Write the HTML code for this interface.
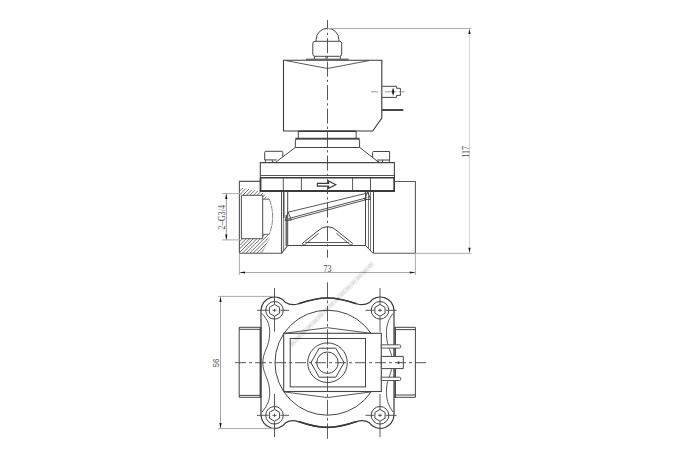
<!DOCTYPE html>
<html><head><meta charset="utf-8">
<style>
html,body{margin:0;padding:0;background:#fff;width:690px;height:459px;overflow:hidden}
svg{display:block}
text{font-family:"Liberation Serif",serif}
</style></head>
<body>
<svg width="690" height="459" viewBox="0 0 690 459">
<defs>
<pattern id="hatch" patternUnits="userSpaceOnUse" width="3" height="3" patternTransform="rotate(45)">
<line x1="0" y1="0" x2="0" y2="3" stroke="#3a3a3a" stroke-width="1"/>
</pattern>
<clipPath id="hc1"><path d="M240,187.4 L261.5,191.6 L269.3,199.2 H262.7 V195.3 H240 Z"/></clipPath>
<clipPath id="hc2"><path d="M240,238.7 H262.7 V234.3 H269.3 C268,242 265,248 261.6,253.3 H240 Z"/></clipPath>
</defs>
<rect width="690" height="459" fill="#fff"/>

<!-- ============ TOP VIEW ============ -->
<g fill="none" stroke="#454545" stroke-width="1">
<!-- dome -->
<path d="M316.1,41.3 V39.7 A11.4,11.4 0 0 1 338.9,39.7 V41.3"/>
<!-- nut -->
<rect x="312.8" y="41.3" width="28.9" height="15" rx="2.2"/>
<path d="M314.4,56.3 V59 M340.4,56.3 V59 M326,56.5 V59"/>
<!-- coil -->
<path d="M283.5,60.3 H381.8 V118.1 L372.7,131 H283.5 Z" stroke="#3a3a3a" stroke-width="1.1"/>
<path d="M286,60.6 L327.5,68.5 L369,60.6" stroke-width="0.9"/>
<!-- connector -->
<path d="M381.8,86.3 H396.6 V88.3 H400.4 V95.4 H396.6 V97.4 H381.8"/>
<!-- ring under coil -->
<path d="M298.3,131 V138.5 M356.1,131 V138.5"/>
<!-- bonnet step -->
<path d="M295.3,147.5 V141 Q295.3,138.8 297.5,138.8 H357.4 Q359.6,138.8 359.6,141 V147.5 H295.3"/>
<!-- bonnet slants -->
<path d="M295.3,147.5 L277.5,160.8 M359.6,147.3 L378.5,162.2"/>
<!-- bolt heads -->
<path d="M276.8,159.9 H264.7 V152.3 Q264.7,151.3 265.7,151.3 H281.8 Q282.8,151.3 282.8,152.3 V156.8"/>
<path d="M265.4,159.9 V162.6 M272,160 L273,162.4 H276.3 L277.3,160.6"/>
<path d="M372.6,157.5 V152.3 Q372.6,151.5 373.4,151.5 H389.6 V160 H377"/>
<path d="M389.4,160 V162.6 M378.3,160.9 L379,162.4 H382.2 L383,160"/>
<!-- flange -->
<path d="M260.3,190.8 V162.6 H394.4 V190.8" stroke-width="1.1"/>
<line x1="260.3" y1="175.5" x2="394.4" y2="175.5" stroke-width="0.9"/>
<line x1="260.3" y1="177.8" x2="394.4" y2="177.8" stroke-width="1.6" stroke="#3a3a3a"/>
<line x1="259.6" y1="190.9" x2="395" y2="190.9" stroke-width="2" stroke="#3a3a3a"/>
<path d="M260.6,178 V191 M394.2,178 V191" stroke-width="1.6" stroke="#3a3a3a"/>
<path d="M283.3,178 V190 M301.4,178 V190 M352.6,178 V190 M370.5,178 V190" stroke-width="0.9"/>
<!-- arrow -->

<!-- left port -->
<path d="M260.3,181.4 H239.4 V253.3 H281.6 L287.7,245.5" stroke-width="1.1" stroke="#555"/>
<!-- hatch areas -->
<path d="M230.0,190.0 L280.0,140.0 M230.0,193.6 L280.0,143.6 M230.0,197.2 L280.0,147.2 M230.0,200.8 L280.0,150.8 M230.0,204.4 L280.0,154.4 M230.0,208.0 L280.0,158.0 M230.0,211.6 L280.0,161.6 M230.0,215.2 L280.0,165.2 M230.0,218.8 L280.0,168.8 M230.0,222.4 L280.0,172.4 M230.0,226.0 L280.0,176.0 M230.0,229.6 L280.0,179.6 M230.0,233.2 L280.0,183.2 M230.0,236.8 L280.0,186.8 M230.0,240.4 L280.0,190.4 M230.0,244.0 L280.0,194.0 M230.0,247.6 L280.0,197.6 M230.0,251.2 L280.0,201.2 M230.0,254.8 L280.0,204.8 M230.0,258.4 L280.0,208.4 M230.0,262.0 L280.0,212.0 M230.0,265.6 L280.0,215.6 M230.0,269.2 L280.0,219.2 M230.0,272.8 L280.0,222.8 M230.0,276.4 L280.0,226.4 M230.0,280.0 L280.0,230.0 M230.0,283.6 L280.0,233.6 M230.0,287.2 L280.0,237.2 M230.0,290.8 L280.0,240.8 M230.0,294.4 L280.0,244.4 M230.0,298.0 L280.0,248.0" clip-path="url(#hc1)" stroke="#404040" stroke-width="0.75"/>
<path d="M230.0,190.0 L280.0,140.0 M230.0,193.6 L280.0,143.6 M230.0,197.2 L280.0,147.2 M230.0,200.8 L280.0,150.8 M230.0,204.4 L280.0,154.4 M230.0,208.0 L280.0,158.0 M230.0,211.6 L280.0,161.6 M230.0,215.2 L280.0,165.2 M230.0,218.8 L280.0,168.8 M230.0,222.4 L280.0,172.4 M230.0,226.0 L280.0,176.0 M230.0,229.6 L280.0,179.6 M230.0,233.2 L280.0,183.2 M230.0,236.8 L280.0,186.8 M230.0,240.4 L280.0,190.4 M230.0,244.0 L280.0,194.0 M230.0,247.6 L280.0,197.6 M230.0,251.2 L280.0,201.2 M230.0,254.8 L280.0,204.8 M230.0,258.4 L280.0,208.4 M230.0,262.0 L280.0,212.0 M230.0,265.6 L280.0,215.6 M230.0,269.2 L280.0,219.2 M230.0,272.8 L280.0,222.8 M230.0,276.4 L280.0,226.4 M230.0,280.0 L280.0,230.0 M230.0,283.6 L280.0,233.6 M230.0,287.2 L280.0,237.2 M230.0,290.8 L280.0,240.8 M230.0,294.4 L280.0,244.4 M230.0,298.0 L280.0,248.0" clip-path="url(#hc2)" stroke="#404040" stroke-width="0.75"/>
<!-- bore -->
<path d="M262.7,195.3 H241.4 V238.7 H262.7 Z" stroke-width="1" stroke="#505050"/>
<path d="M262.7,199.2 H269.3 M262.7,234.3 H269.3" stroke-width="0.8"/>
<path d="M269.3,199.2 C271.8,206 272.6,211 272.6,216.7 C272.6,222.5 271.8,227.5 269.3,234.3" stroke-width="0.8" stroke="#666" stroke-dasharray="6 0.8"/>
<path d="M269.3,238.7 L261.5,253" stroke-width="0.5" stroke="#888"/>

<!-- body -->
<path d="M281.6,191 V253 M287.7,191 V245.5" stroke-width="1"/>
<path d="M283.6,218 V250.5" stroke-width="0.8" stroke="#555"/>
<path d="M283.8,191 V218" stroke-width="1.4" stroke="#454545"/>
<path d="M286.2,215 V246" stroke-width="1.2" stroke="#454545"/>
<path d="M373.5,191 V253 M365.5,191 V245.5" stroke-width="1"/>
<path d="M368.5,191 V248 M370.5,191 V250.5" stroke-width="0.8" stroke="#555"/>
<path d="M287.7,245.5 H365.5" stroke-width="1"/>
<path d="M365.5,245.5 L373,253.3" stroke-width="1"/>
<!-- right port -->
<path d="M394.4,181.5 H415.4 V253.3 H373.4" stroke-width="1.1" stroke="#5a5a5a"/>

<!-- diaphragm -->
<path d="M287.4,212.4 L367.3,193" stroke-width="0.9"/>
<path d="M288.3,218.6 L367.3,197.6" stroke-width="0.9"/>
<path d="M288.3,220.4 L367.3,199.4" stroke-width="0.9"/>
<path d="M285,220.4 L288.3,212.5 L291.5,220 Z" stroke-width="0.9"/>
<path d="M364.5,199.5 L367.8,192 L370.5,199.5 Z" stroke-width="0.9"/>
<!-- seat cone -->
<path d="M302.6,243.2 L316.5,232 Q327.5,221.2 338.5,232 L352.4,243.2" stroke-width="1"/>
<path d="M302.6,243.2 A1.4,1.4 0 0 0 304.6,244.8 L318.6,233.4 M352.4,243.2 A1.4,1.4 0 0 1 350.4,244.8 L336.4,233.4" stroke-width="0.9"/>
<path d="M305.4,242.5 H348.8" stroke-width="0.9"/>
</g>

<!-- centre lines top view -->
<g fill="none">
<line x1="327.5" y1="20" x2="327.5" y2="257.7" stroke="#454545" stroke-width="0.9" stroke-dasharray="15 3.2 2.2 3.1" stroke-dashoffset="5.4"/>
<line x1="371" y1="91.8" x2="404.5" y2="91.8" stroke="#999" stroke-width="1" stroke-dasharray="7 2.5 2 2.5"/>
</g>
<path d="M393.1,87.5 L394.4,91.8 L393.1,96 L391.8,91.8 Z" fill="#222"/>
<path d="M317.4,183.4 H328.6 V181 L335.8,184.7 L328.6,188.3 V186.1 H317.4 Z" fill="#fff" stroke="#3a3a3a" stroke-width="1.1"/>
<line x1="382" y1="110" x2="403.3" y2="110" stroke="#454545" stroke-width="2"/>
<rect x="306" y="58.6" width="42.6" height="1.8" fill="#666"/>
<line x1="298.3" y1="131.2" x2="356.1" y2="131.2" stroke="#3a3a3a" stroke-width="1.4"/>
<line x1="295.3" y1="138.6" x2="359.6" y2="138.6" stroke="#444" stroke-width="1.6"/>

<!-- dimensions top view -->
<g stroke="#aaa" stroke-width="1" fill="none">
<line x1="327.5" y1="28.5" x2="471.2" y2="28.5"/>
<line x1="415.4" y1="253.3" x2="471.2" y2="253.3"/>
<line x1="469.5" y1="30" x2="469.5" y2="252" stroke="#d6d6d6"/>
<line x1="239.4" y1="272.5" x2="415.4" y2="272.5"/>
<line x1="239.4" y1="253" x2="239.4" y2="275"/>
<line x1="415.4" y1="253" x2="415.4" y2="275"/>
<line x1="226.3" y1="193.6" x2="226.3" y2="239.9" stroke="#999"/>
<line x1="222" y1="193.6" x2="240" y2="193.6"/>
<line x1="222" y1="239.9" x2="240" y2="239.9"/>
</g>
<g fill="#111">
<path d="M469.5,28.8 L470.6,34 L468.4,34 Z"/>
<path d="M469.5,253 L470.6,247.8 L468.4,247.8 Z"/>
<path d="M239.6,272.5 L245,271.4 L245,273.6 Z"/>
<path d="M415.2,272.5 L409.8,271.4 L409.8,273.6 Z"/>
<path d="M226.3,193.8 L227.4,199 L225.2,199 Z"/>
<path d="M226.3,239.7 L227.4,234.5 L225.2,234.5 Z"/>
</g>
<g fill="#444" font-size="9.4">
<text x="327.4" y="271.7" text-anchor="middle" textLength="7.8" lengthAdjust="spacingAndGlyphs">73</text>
<text transform="translate(468.9,151.8) rotate(-90)" font-size="9.4" text-anchor="middle" textLength="11.8" lengthAdjust="spacingAndGlyphs">117</text>
<text transform="translate(224.9,217.2) rotate(-90)" text-anchor="middle" font-size="10.2" fill="#555" textLength="24.6" lengthAdjust="spacingAndGlyphs">2–G3/4</text>
</g>

<!-- ============ BOTTOM VIEW ============ -->
<g fill="none" stroke="#454545" stroke-width="1">
<!-- body outline -->
<path id="outline" d="M261,310.3 A13.6,13.6 0 0 1 285.6,302.6 C289.5,305 293.5,305.4 298.5,303.8 C309,300.2 317,298 327.5,298 C338,298 346,300.2 356.5,303.8 C361.5,305.4 365.5,305 369.4,302.6 A13.6,13.6 0 0 1 394,310.3 V415.1 A13.6,13.6 0 0 1 369.4,422.8 C365.5,420.4 361.5,420 356.5,421.6 C346,425.2 338,427.4 327.5,427.4 C317,427.4 309,425.2 298.5,421.6 C293.5,420 289.5,420.4 285.6,422.8 A13.6,13.6 0 0 1 261,415.1 Z" stroke-width="1.2" stroke="#3a3a3a"/>
<!-- inner wall curves -->
<path d="M262,313.5 C268,320 270.5,326 269.5,336 C269,347 262.8,352 262.8,362.7 C262.8,373 268.5,378 269.5,389 C270.5,399 268,405 262,412" stroke-width="0.9"/>
<path d="M393,313.5 C388,320 386,326 386.5,336 C387,347 392.4,352 392.4,362.7 C392.4,373 387,378 386.5,389 C386,399 388,405 393,412" stroke-width="0.9"/>
<!-- big circle -->
<circle cx="327.5" cy="362.7" r="52.5" stroke-width="1"/>
<!-- bolt holes -->
<circle cx="274.5" cy="310.3" r="8.8"/><path d="M274.5,316.2 L269.4,313.2 L269.4,307.4 L274.5,304.4 L279.6,307.4 L279.6,313.2 Z"/>
<circle cx="380" cy="310.3" r="8.8"/><path d="M380.0,316.2 L374.9,313.2 L374.9,307.4 L380.0,304.4 L385.1,307.4 L385.1,313.2 Z"/>
<circle cx="274.5" cy="415.3" r="8.8"/><path d="M274.5,421.2 L269.4,418.2 L269.4,412.4 L274.5,409.4 L279.6,412.4 L279.6,418.2 Z"/>
<circle cx="380" cy="415.3" r="8.8"/><path d="M380.0,421.2 L374.9,418.2 L374.9,412.4 L380.0,409.4 L385.1,412.4 L385.1,418.2 Z"/>
<!-- crosshairs -->
<path d="M257.0,310.3 H268.5 M280.5,310.3 H289.0 M274.5,288.0 V304.3 M274.5,316.3 V331.7 M272.5,310.3 H276.5 M274.5,308.8 V311.8 M365.5,310.3 H374.0 M386.0,310.3 H396.5 M380.0,288.0 V304.3 M380.0,316.3 V331.7 M378.0,310.3 H382.0 M380.0,308.8 V311.8 M257.0,415.3 H268.5 M280.5,415.3 H289.0 M274.5,394.0 V409.3 M274.5,421.3 V437.0 M272.5,415.3 H276.5 M274.5,413.8 V416.8 M365.5,415.3 H374.0 M386.0,415.3 H396.5 M380.0,394.0 V409.3 M380.0,421.3 V437.0 M378.0,415.3 H382.0 M380.0,413.8 V416.8" stroke-width="0.9"/>
<!-- ports -->
<path d="M260.5,327.3 H239.2 V397.3 H260.5 M239.2,329.3 H260.5 M239.2,395.4 H260.5" stroke-width="1"/>
<path d="M394.3,327.3 H415.4 V397.3 H394.3 M394.3,329.6 H415.4 M394.3,395 H415.4" stroke-width="1"/>
<line x1="260.5" y1="327" x2="260.5" y2="398" stroke="#454545" stroke-width="1.8"/>
<line x1="395.2" y1="327" x2="395.2" y2="398" stroke="#444" stroke-width="1.5"/>
<!-- coil rect -->
<rect x="283.7" y="333.3" width="97.6" height="58.2" fill="#fff" stroke-width="1.1"/>
<rect x="290.2" y="338.5" width="75.3" height="48.4" stroke-width="1"/>
<path d="M284,333.3 L327.5,327.7 L371,333.3 M284,391.9 L327.5,397.6 L371,391.9" stroke-width="0.9"/>
<!-- nut -->
<circle cx="327.5" cy="362.7" r="19.8" stroke-width="1"/>
<path d="M310.9,362.7 L319.2,348.2 H335.8 L344.1,362.7 L335.8,377.2 H319.2 Z" stroke-width="1"/>
<circle cx="327.5" cy="362.7" r="10.7" stroke-width="1"/>
<!-- terminal -->
<path d="M381.3,344.8 H399.6 Q400.8,344.8 400.8,346.4 Q400.8,348.1 399.6,348.1 H381.3 Z M381.3,377.2 H399.6 Q400.8,377.2 400.8,378.8 Q400.8,380.5 399.6,380.5 H381.3 Z" fill="#fff" stroke-width="0.9"/>
<path d="M381.3,356.4 H403.3 V368.6 H381.3 Z" fill="#fff" stroke-width="1"/>
</g>
<circle cx="398.6" cy="362.6" r="1.2" fill="#222"/>
<g fill="none">
<line x1="235" y1="362.7" x2="428" y2="362.7" stroke="#444" stroke-width="0.9" stroke-dasharray="11 3 3 3"/>
<line x1="327.5" y1="282.3" x2="327.5" y2="440" stroke="#444" stroke-width="0.85" stroke-dasharray="15.5 2.5 3 2.5"/>
<path d="M298.5,303.8 C309,300.2 317,298 327.5,298 C338,298 346,300.2 356.5,303.8 M298.5,421.6 C309,425.2 317,427.4 327.5,427.4 C338,427.4 346,425.2 356.5,421.6" fill="none" stroke="#3a3a3a" stroke-width="1.6"/>
</g>
<!-- dim 56 -->
<g stroke="#aaa" stroke-width="1" fill="none">
<line x1="218" y1="296.4" x2="274" y2="296.4"/>
<line x1="218" y1="428.6" x2="274" y2="428.6"/>
<line x1="220.5" y1="297" x2="220.5" y2="428"/>
</g>
<g fill="#111">
<path d="M220.5,296.8 L221.6,302 L219.4,302 Z"/>
<path d="M220.5,428.2 L221.6,423 L219.4,423 Z"/>
</g>
<text transform="translate(219.1,362.9) rotate(-90)" text-anchor="middle" font-size="8.6" fill="#555" textLength="8.8" lengthAdjust="spacingAndGlyphs" style="font-family:'Liberation Sans',sans-serif">56</text>
<g stroke="#000" opacity="0.11" fill="none"><line x1="291" y1="345" x2="373" y2="263" stroke-width="5.4" stroke-dasharray="1.1 1"/><line x1="291" y1="345" x2="373" y2="263" stroke-width="2.6" stroke-dasharray="5.5 2.3"/></g>
</svg>
</body></html>
